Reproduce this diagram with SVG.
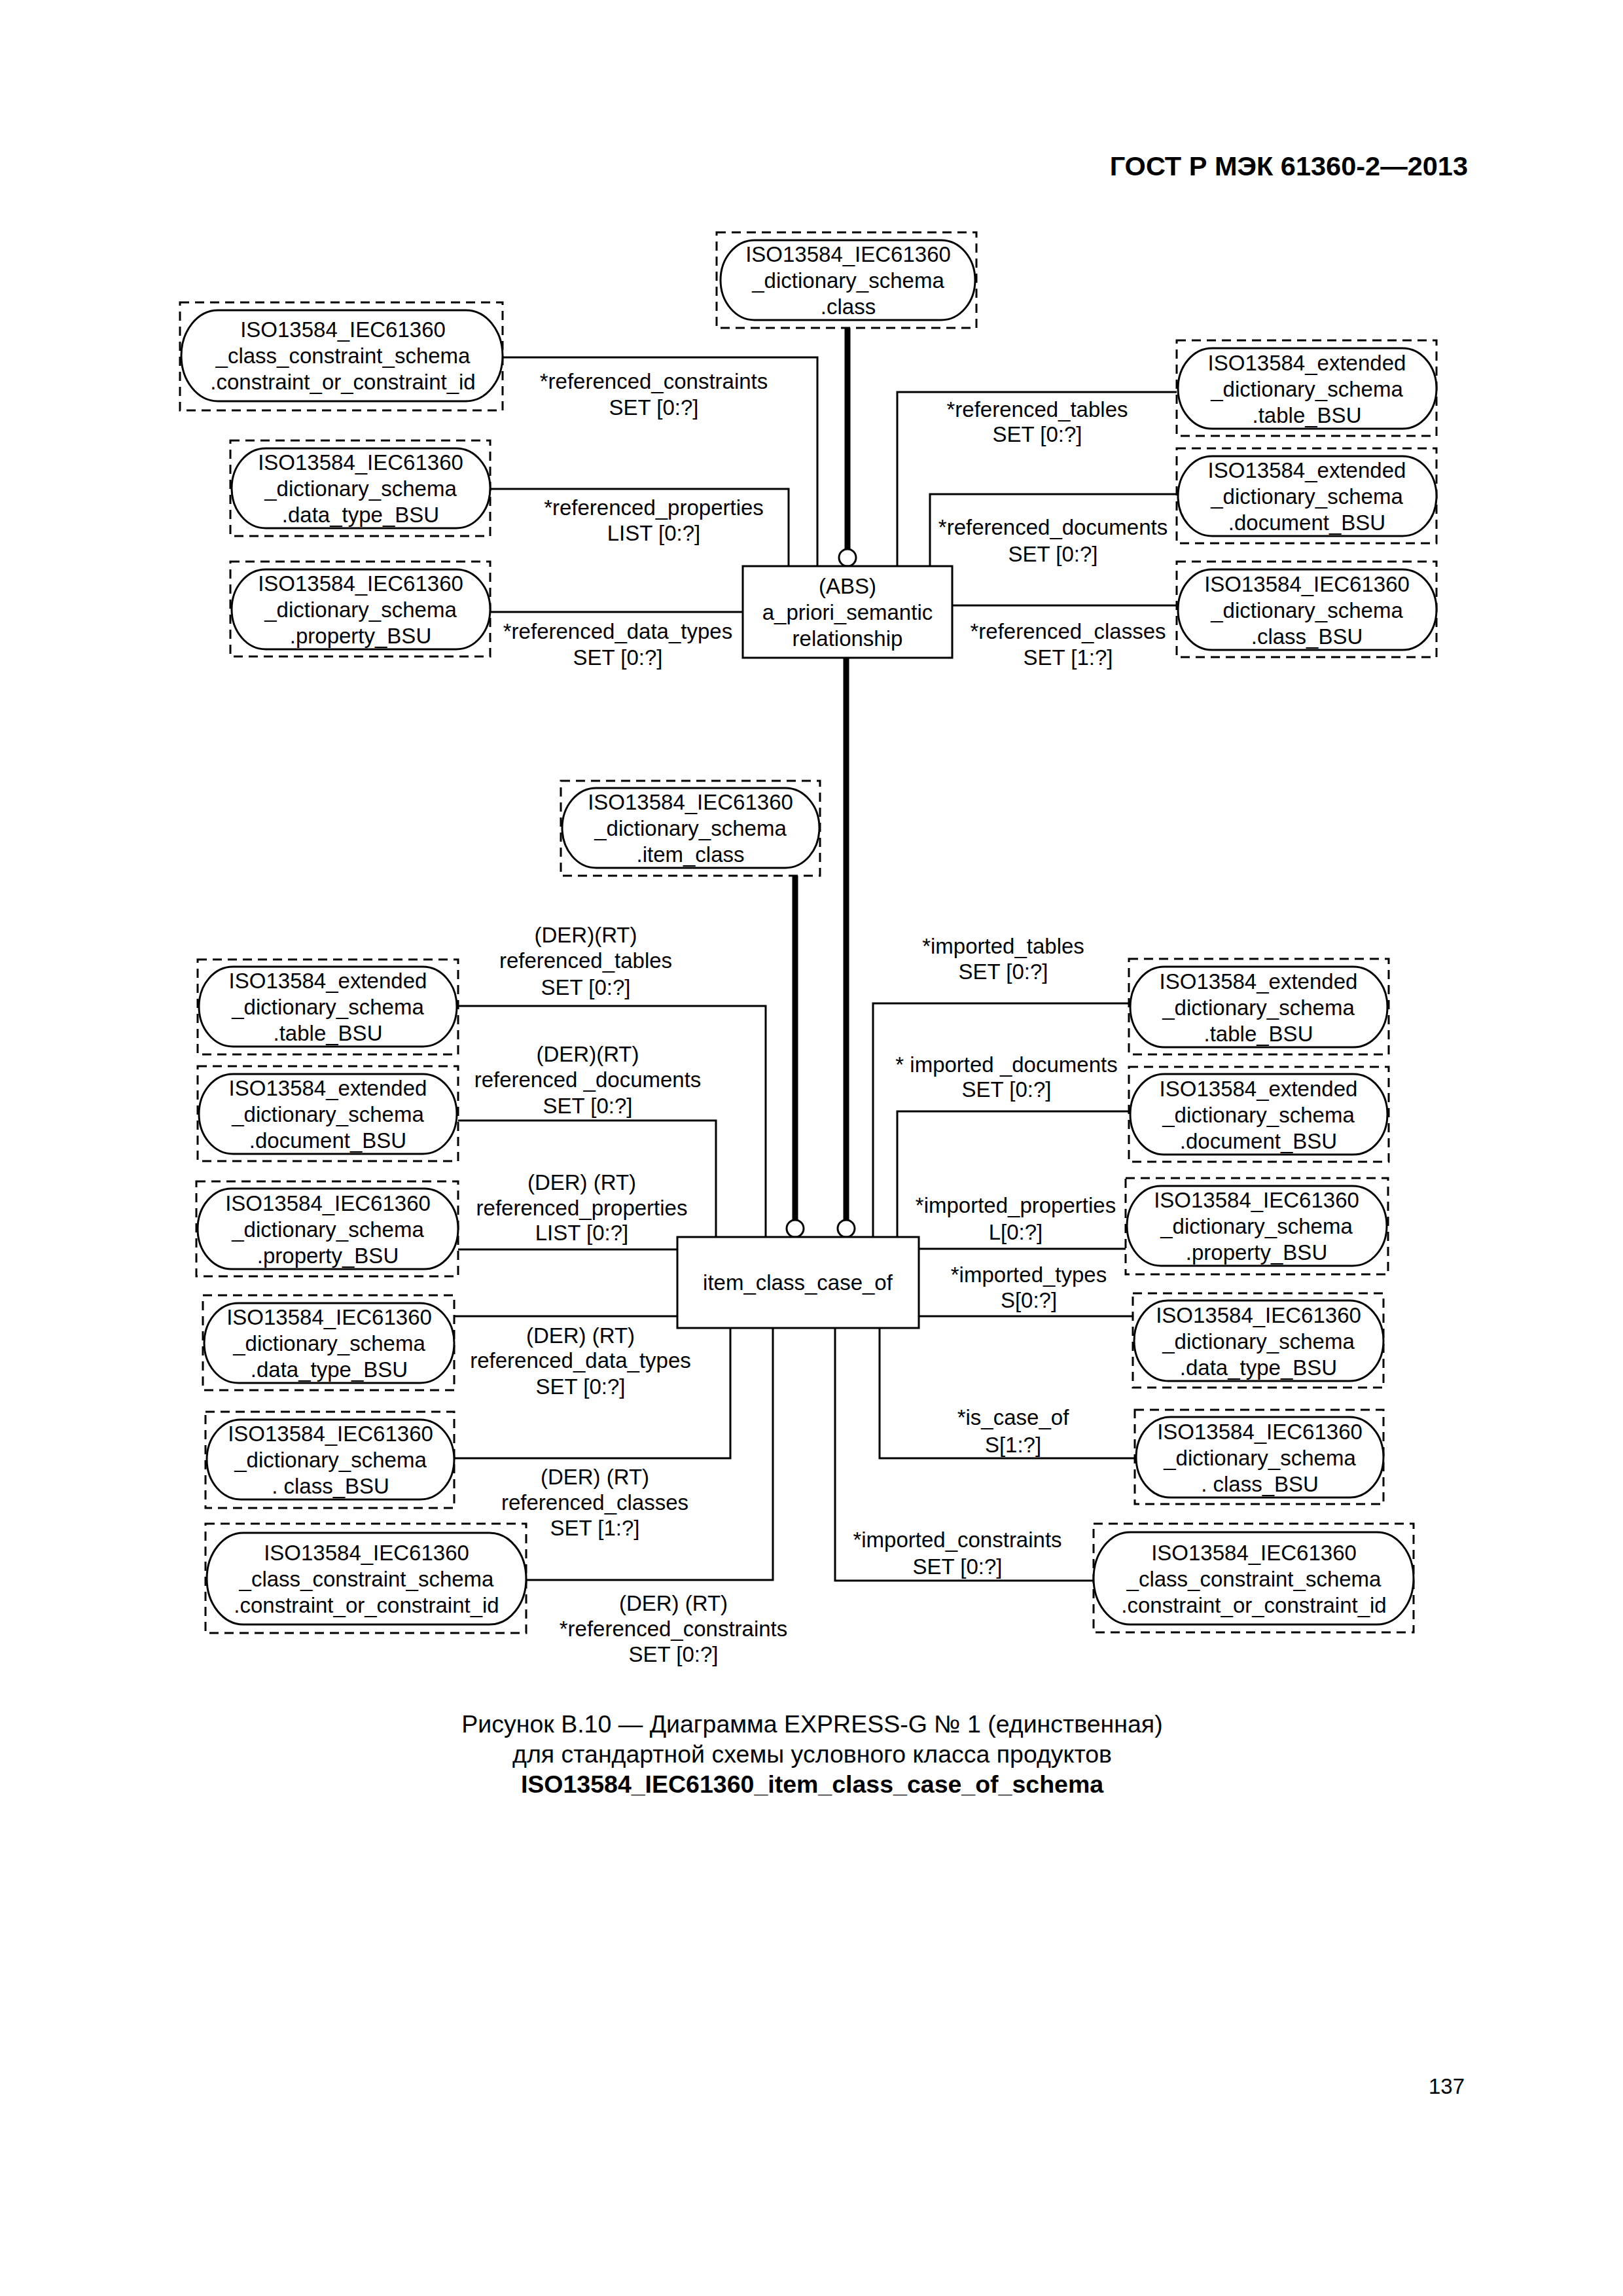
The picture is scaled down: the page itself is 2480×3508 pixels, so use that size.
<svg xmlns="http://www.w3.org/2000/svg" width="2480" height="3508" viewBox="0 0 2480 3508">
<style>
.bg{fill:#fff}
.dash{fill:none;stroke:#000;stroke-width:3;stroke-dasharray:14 9}
.nd{fill:#fff;stroke:#000;stroke-width:3}
.box{fill:#fff;stroke:#000;stroke-width:3}
.c{fill:none;stroke:#000;stroke-width:3}
.th{fill:none;stroke:#000;stroke-width:9}
.circ{fill:#fff;stroke:#000;stroke-width:3}
text{font-family:"Liberation Sans",Arial,sans-serif;font-size:33px;fill:#000;text-anchor:middle}
.hdr{font-size:41.5px;font-weight:bold;text-anchor:end}
.cap{font-size:37.5px}
.capb{font-size:37.5px;font-weight:bold}
.pg{text-anchor:end}
</style>
<rect class="bg" x="0" y="0" width="2480" height="3508"/>
<text class="hdr" x="2243" y="268">ГОСТ Р МЭК 61360-2—2013</text>

<g id="connectors">
<!-- top section -->
<line class="th" x1="1295" y1="501" x2="1295" y2="839"/>
<circle class="circ" cx="1295" cy="852" r="13"/>
<polyline class="c" points="768,546 1249,546 1249,865"/>
<polyline class="c" points="749,747 1205,747 1205,865"/>
<polyline class="c" points="749,935 1135,935"/>
<polyline class="c" points="1371,865 1371,599 1798,599"/>
<polyline class="c" points="1421,865 1421,755 1798,755"/>
<polyline class="c" points="1455,925 1798,925"/>
<!-- middle thick -->
<line class="th" x1="1293" y1="1005" x2="1293" y2="1864"/>
<circle class="circ" cx="1293" cy="1877" r="13"/>
<line class="th" x1="1215" y1="1338" x2="1215" y2="1864"/>
<circle class="circ" cx="1215" cy="1877" r="13"/>
<!-- lower left -->
<polyline class="c" points="1170,1890 1170,1537 700,1537"/>
<polyline class="c" points="1094,1890 1094,1712 700,1712"/>
<polyline class="c" points="1035,1909 700,1909"/>
<polyline class="c" points="1035,2011 694,2011"/>
<polyline class="c" points="1116,2029 1116,2228 694,2228"/>
<polyline class="c" points="1181,2029 1181,2414 804,2414"/>
<!-- lower right -->
<polyline class="c" points="1334,1890 1334,1533 1727,1533"/>
<polyline class="c" points="1371,1890 1371,1698 1727,1698"/>
<polyline class="c" points="1404,1908 1720,1908"/>
<polyline class="c" points="1404,2011 1731,2011"/>
<polyline class="c" points="1344,2029 1344,2228 1734,2228"/>
<polyline class="c" points="1276,2029 1276,2415 1671,2415"/>
</g>

<g id="labels">
<text x="999" y="594">*referenced_constraints</text>
<text x="999" y="634">SET [0:?]</text>
<text x="999" y="787">*referenced_properties</text>
<text x="999" y="826">LIST [0:?]</text>
<text x="944" y="976">*referenced_data_types</text>
<text x="944" y="1016">SET [0:?]</text>
<text x="1585" y="637">*referenced_tables</text>
<text x="1585" y="675">SET [0:?]</text>
<text x="1609" y="817">*referenced_documents</text>
<text x="1609" y="858">SET [0:?]</text>
<text x="1632" y="976">*referenced_classes</text>
<text x="1632" y="1016">SET [1:?]</text>

<text x="895" y="1440">(DER)(RT)</text>
<text x="895" y="1479">referenced_tables</text>
<text x="895" y="1520">SET [0:?]</text>
<text x="898" y="1622">(DER)(RT)</text>
<text x="898" y="1661">referenced _documents</text>
<text x="898" y="1701">SET [0:?]</text>
<text x="889" y="1818">(DER) (RT)</text>
<text x="889" y="1857">referenced_properties</text>
<text x="889" y="1895">LIST [0:?]</text>
<text x="887" y="2052">(DER) (RT)</text>
<text x="887" y="2090">referenced_data_types</text>
<text x="887" y="2130">SET [0:?]</text>
<text x="909" y="2268">(DER) (RT)</text>
<text x="909" y="2307">referenced_classes</text>
<text x="909" y="2346">SET [1:?]</text>
<text x="1029" y="2461">(DER) (RT)</text>
<text x="1029" y="2500">*referenced_constraints</text>
<text x="1029" y="2539">SET [0:?]</text>

<text x="1533" y="1457">*imported_tables</text>
<text x="1533" y="1496">SET [0:?]</text>
<text x="1538" y="1638">* imported _documents</text>
<text x="1538" y="1676">SET [0:?]</text>
<text x="1552" y="1853">*imported_properties</text>
<text x="1552" y="1894">L[0:?]</text>
<text x="1572" y="1959">*imported_types</text>
<text x="1572" y="1998">S[0:?]</text>
<text x="1548" y="2177">*is_case_of</text>
<text x="1548" y="2219">S[1:?]</text>
<text x="1463" y="2364">*imported_constraints</text>
<text x="1463" y="2405">SET [0:?]</text>
</g>

<g id="n_class_top">
<rect class="dash" x="1095" y="355" width="397" height="146"/>
<rect class="nd" x="1101" y="367" width="389" height="122" rx="52" ry="61"/>
<text x="1296" y="400">ISO13584_IEC61360</text>
<text x="1296" y="440">_dictionary_schema</text>
<text x="1296" y="480">.class</text>
</g>

<g id="n_constraint_top">
<rect class="dash" x="275" y="462" width="493" height="165"/>
<rect class="nd" x="277" y="474" width="491" height="139" rx="56" ry="69.5"/>
<text x="524" y="515">ISO13584_IEC61360</text>
<text x="524" y="555">_class_constraint_schema</text>
<text x="524" y="595">.constraint_or_constraint_id</text>
</g>

<g id="n_datatype_top">
<rect class="dash" x="352" y="673" width="397" height="146"/>
<rect class="nd" x="354" y="685" width="395" height="122" rx="52" ry="61"/>
<text x="551" y="718">ISO13584_IEC61360</text>
<text x="551" y="758">_dictionary_schema</text>
<text x="551" y="798">.data_type_BSU</text>
</g>

<g id="n_property_top">
<rect class="dash" x="352" y="858" width="397" height="145"/>
<rect class="nd" x="354" y="870" width="395" height="122" rx="52" ry="61"/>
<text x="551" y="903">ISO13584_IEC61360</text>
<text x="551" y="943">_dictionary_schema</text>
<text x="551" y="983">.property_BSU</text>
</g>

<g id="n_abs">
<rect class="box" x="1135" y="865" width="320" height="140"/>
<text x="1295" y="907">(ABS)</text>
<text x="1295" y="947">a_priori_semantic</text>
<text x="1295" y="987">relationship</text>
</g>

<g id="n_table_top">
<rect class="dash" x="1798" y="520" width="397" height="146"/>
<rect class="nd" x="1800" y="532" width="395" height="123" rx="52" ry="61.5"/>
<text x="1997" y="566">ISO13584_extended</text>
<text x="1997" y="606">_dictionary_schema</text>
<text x="1997" y="646">.table_BSU</text>
</g>

<g id="n_document_top">
<rect class="dash" x="1798" y="685" width="397" height="145"/>
<rect class="nd" x="1800" y="697" width="395" height="122" rx="52" ry="61"/>
<text x="1997" y="730">ISO13584_extended</text>
<text x="1997" y="770">_dictionary_schema</text>
<text x="1997" y="810">.document_BSU</text>
</g>

<g id="n_classbsu_top">
<rect class="dash" x="1798" y="858" width="397" height="146"/>
<rect class="nd" x="1800" y="870" width="395" height="123" rx="52" ry="61.5"/>
<text x="1997" y="904">ISO13584_IEC61360</text>
<text x="1997" y="944">_dictionary_schema</text>
<text x="1997" y="984">.class_BSU</text>
</g>

<g id="n_item_class">
<rect class="dash" x="857" y="1193" width="396" height="145"/>
<rect class="nd" x="859" y="1204" width="393" height="122" rx="52" ry="61"/>
<text x="1055" y="1237">ISO13584_IEC61360</text>
<text x="1055" y="1277">_dictionary_schema</text>
<text x="1055" y="1317">.item_class</text>
</g>

<g id="n_item_class_case_of">
<rect class="box" x="1035" y="1890" width="369" height="139"/>
<text x="1219" y="1971">item_class_case_of</text>
</g>

<g id="n_table_l">
<rect class="dash" x="302" y="1466" width="398" height="145"/>
<rect class="nd" x="304" y="1477" width="394" height="122" rx="52" ry="61"/>
<text x="501" y="1510">ISO13584_extended</text>
<text x="501" y="1550">_dictionary_schema</text>
<text x="501" y="1590">.table_BSU</text>
</g>

<g id="n_document_l">
<rect class="dash" x="302" y="1629" width="398" height="145"/>
<rect class="nd" x="304" y="1641" width="394" height="122" rx="52" ry="61"/>
<text x="501" y="1674">ISO13584_extended</text>
<text x="501" y="1714">_dictionary_schema</text>
<text x="501" y="1754">.document_BSU</text>
</g>

<g id="n_property_l">
<rect class="dash" x="300" y="1805" width="400" height="145"/>
<rect class="nd" x="302" y="1816" width="398" height="123" rx="52" ry="61.5"/>
<text x="501" y="1850">ISO13584_IEC61360</text>
<text x="501" y="1890">_dictionary_schema</text>
<text x="501" y="1930">.property_BSU</text>
</g>

<g id="n_datatype_l">
<rect class="dash" x="310" y="1979" width="384" height="145"/>
<rect class="nd" x="312" y="1991" width="382" height="122" rx="52" ry="61"/>
<text x="503" y="2024">ISO13584_IEC61360</text>
<text x="503" y="2064">_dictionary_schema</text>
<text x="503" y="2104">.data_type_BSU</text>
</g>

<g id="n_classbsu_l">
<rect class="dash" x="314" y="2157" width="380" height="147"/>
<rect class="nd" x="316" y="2169" width="378" height="122" rx="52" ry="61"/>
<text x="505" y="2202">ISO13584_IEC61360</text>
<text x="505" y="2242">_dictionary_schema</text>
<text x="505" y="2282">. class_BSU</text>
</g>

<g id="n_constraint_l">
<rect class="dash" x="314" y="2328" width="490" height="167"/>
<rect class="nd" x="316" y="2342" width="488" height="140" rx="56" ry="70"/>
<text x="560" y="2384">ISO13584_IEC61360</text>
<text x="560" y="2424">_class_constraint_schema</text>
<text x="560" y="2464">.constraint_or_constraint_id</text>
</g>

<g id="n_table_r">
<rect class="dash" x="1725" y="1465" width="397" height="146"/>
<rect class="nd" x="1727" y="1477" width="393" height="123" rx="52" ry="61.5"/>
<text x="1923" y="1511">ISO13584_extended</text>
<text x="1923" y="1551">_dictionary_schema</text>
<text x="1923" y="1591">.table_BSU</text>
</g>

<g id="n_document_r">
<rect class="dash" x="1725" y="1630" width="397" height="145"/>
<rect class="nd" x="1727" y="1641" width="393" height="123" rx="52" ry="61.5"/>
<text x="1923" y="1675">ISO13584_extended</text>
<text x="1923" y="1715">_dictionary_schema</text>
<text x="1923" y="1755">.document_BSU</text>
</g>

<g id="n_property_r">
<rect class="dash" x="1720" y="1800" width="401" height="147"/>
<rect class="nd" x="1722" y="1812" width="397" height="122" rx="52" ry="61"/>
<text x="1920" y="1845">ISO13584_IEC61360</text>
<text x="1920" y="1885">_dictionary_schema</text>
<text x="1920" y="1925">.property_BSU</text>
</g>

<g id="n_datatype_r">
<rect class="dash" x="1731" y="1976" width="383" height="144"/>
<rect class="nd" x="1733" y="1987" width="381" height="123" rx="52" ry="61.5"/>
<text x="1923" y="2021">ISO13584_IEC61360</text>
<text x="1923" y="2061">_dictionary_schema</text>
<text x="1923" y="2101">.data_type_BSU</text>
</g>

<g id="n_classbsu_r">
<rect class="dash" x="1734" y="2154" width="380" height="144"/>
<rect class="nd" x="1736" y="2165" width="378" height="123" rx="52" ry="61.5"/>
<text x="1925" y="2199">ISO13584_IEC61360</text>
<text x="1925" y="2239">_dictionary_schema</text>
<text x="1925" y="2279">. class_BSU</text>
</g>

<g id="n_constraint_r">
<rect class="dash" x="1671" y="2328" width="489" height="166"/>
<rect class="nd" x="1671" y="2341" width="489" height="141" rx="56" ry="70.5"/>
<text x="1916" y="2384">ISO13584_IEC61360</text>
<text x="1916" y="2424">_class_constraint_schema</text>
<text x="1916" y="2464">.constraint_or_constraint_id</text>
</g>

<g id="caption">
<text class="cap" x="1241" y="2647">Рисунок В.10 — Диаграмма EXPRESS-G № 1 (единственная)</text>
<text class="cap" x="1241" y="2693">для стандартной схемы условного класса продуктов</text>
<text class="capb" x="1241" y="2739">ISO13584_IEC61360_item_class_case_of_schema</text>
</g>

<text class="pg" x="2238" y="3199">137</text>
</svg>
